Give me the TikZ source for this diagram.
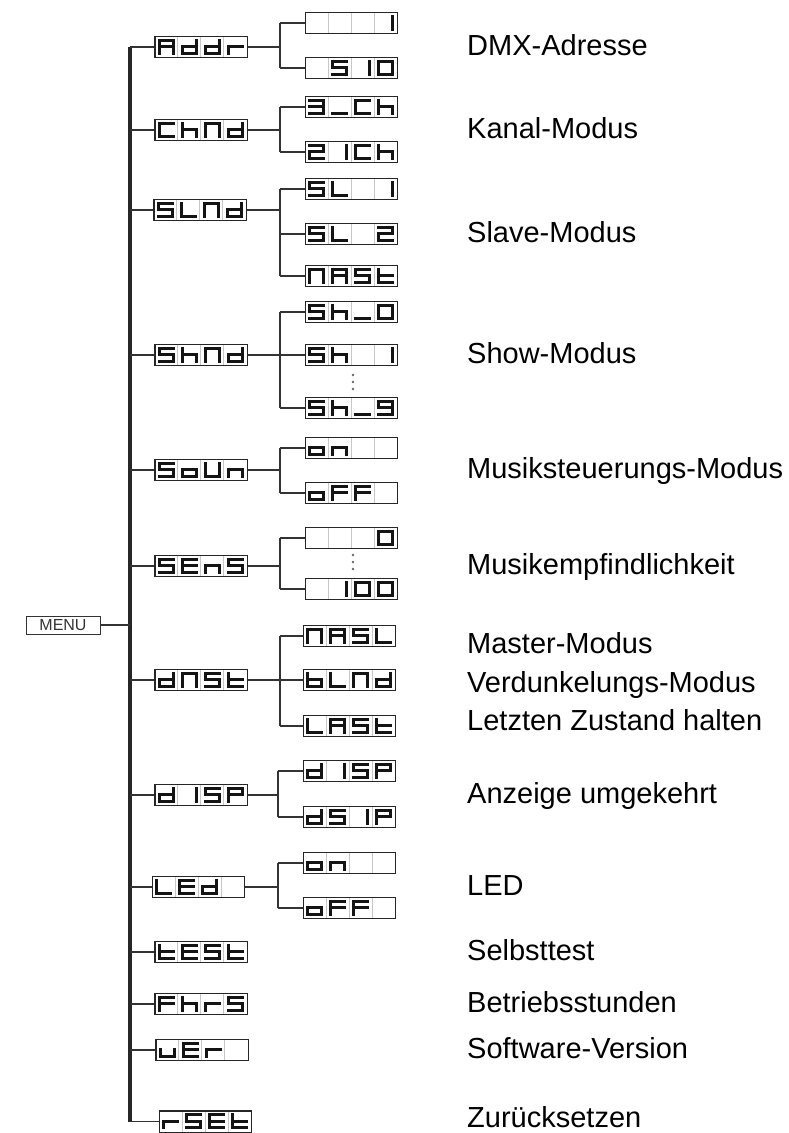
\documentclass[tikz,border=0pt]{standalone}
\usepackage{fontspec}
\setmainfont{Liberation Sans}
\usetikzlibrary{calc}
% segment paths inside one 23x21 cell (origin = top-left, y downward)
\expandafter\def\csname sg@a\endcsname{(4.5,4)--(18.5,4)}
\expandafter\def\csname sg@b\endcsname{(18.5,4)--(18.5,10.5)}
\expandafter\def\csname sg@c\endcsname{(18.5,10.5)--(18.5,17)}
\expandafter\def\csname sg@d\endcsname{(4.5,17)--(18.5,17)}
\expandafter\def\csname sg@e\endcsname{(4.5,10.5)--(4.5,17)}
\expandafter\def\csname sg@f\endcsname{(4.5,4)--(4.5,10.5)}
\expandafter\def\csname sg@g\endcsname{(4.5,10.5)--(18.5,10.5)}
\expandafter\def\csname sg@x\endcsname{}
\newcommand{\segpath}[1]{\csname sg@#1\endcsname}
\newcommand{\lcdglyphs}[5]{%
  \foreach \kk in {1,2,3}{\draw[cellsep] ($(#1.north west)+(23*\kk,0)$) -- ($(#1.south west)+(23*\kk,0)$);}
  \foreach \cc/\ss in {0/{#2},1/{#3},2/{#4},3/{#5}}{%
    \edef\tmplist{\ss}%
    \begin{scope}[shift={(#1.north west)}, xshift=23*\cc]
      \foreach \gg in \tmplist {\draw[seg] \segpath{\gg};}
    \end{scope}}%
  \draw[lcdframe] (#1.north west) rectangle (#1.south east);}
% glyph segment lists
\def\gA{a,b,c,e,f,g}\def\gd{b,c,d,e,g}\def\gr{e,g}\def\gC{a,d,e,f}
\def\gh{c,e,f,g}\def\gN{a,b,c,e,f}\def\gS{a,f,g,c,d}\def\gL{d,e,f}
\def\go{c,d,e,g}\def\gU{b,c,d,e,f}\def\gn{c,e,g}\def\gE{a,d,e,f,g}
\def\gt{d,e,f,g}\def\gone{b,c}\def\gzero{a,b,c,d,e,f}\def\gtwo{a,b,g,e,d}
\def\gthree{a,b,g,c,d}\def\gnine{a,b,c,d,f,g}\def\gF{a,e,f,g}
\def\gP{a,b,e,f,g}\def\gb{c,d,e,f,g}\def\gu{c,d,e}\def\gus{d}\def\gx{x}
\begin{document}
\begin{tikzpicture}[x=1pt,y=-1pt,
  lcd/.style={minimum width=92pt, minimum height=21pt, inner sep=0pt, fill=white},
  lcdframe/.style={draw=black!85, line width=1.4pt},
  cellsep/.style={draw=black!22, line width=0.8pt},
  seg/.style={line width=3.1pt, black!92, line cap=rect},
  trunk/.style={line width=3.2pt, black!85},
  branch/.style={line width=1.4pt, black!80},
  label/.style={anchor=base west, font=\fontsize{29}{30}\selectfont, inner sep=0pt},
  menubox/.style={draw=black!80, line width=1pt, minimum width=74pt, minimum height=18pt, inner sep=0pt, font=\fontsize{16}{17}\selectfont, text=black!80},
  dot/.style={fill=black!60, circle, inner sep=0pt, minimum size=2.8pt}]
\useasboundingbox (0,0) rectangle (788,1133);
% trunk
\coordinate (t0) at (130,47);
\coordinate (t1) at (130,1122);
\coordinate (ja) at (280,0);
\coordinate (jb) at (278,0);
\draw[trunk] (t0) -- (t1);
% menu
\node[menubox] (menu) at (63,625) {MENU};
\draw[branch] (menu.east) -- (menu.east -| t0);
% level 1 boxes
\node[lcd] (addr) at (201,47) {};
\node[lcd] (chnd) at (201,130) {};
\node[lcd] (slnd) at (200,210) {};
\node[lcd] (shnd) at (201,355) {};
\node[lcd] (soun) at (201,470) {};
\node[lcd] (sens) at (201,566) {};
\node[lcd] (dnst) at (201,680) {};
\node[lcd] (disp) at (201,795) {};
\node[lcd] (led)  at (198.5,887) {};
\node[lcd] (test) at (201,952) {};
\node[lcd] (fhrs) at (201,1004) {};
\node[lcd] (ver)  at (202,1050) {};
\node[lcd] (rset) at (205.5,1121.5) {};
\foreach \n in {addr,chnd,slnd,shnd,soun,sens,dnst,disp,led,test,fhrs,ver,rset}
  \draw[branch] (\n.west -| t0) -- (\n.west);
% level 2 boxes
\node[lcd] (a1) at (351.5,23) {};
\node[lcd] (a2) at (351.5,68) {};
\node[lcd] (c1) at (351.5,107) {};
\node[lcd] (c2) at (351.5,152) {};
\node[lcd] (s1) at (351.5,189) {};
\node[lcd] (s2) at (351.5,234) {};
\node[lcd] (s3) at (351.5,276) {};
\node[lcd] (h1) at (351.5,312) {};
\node[lcd] (h2) at (351.5,355) {};
\node[lcd] (h3) at (351.5,408) {};
\node[lcd] (o1) at (351.5,448) {};
\node[lcd] (o2) at (351.5,493) {};
\node[lcd] (e1) at (351.5,538) {};
\node[lcd] (e2) at (351.5,589) {};
\node[lcd] (d1) at (349.5,636) {};
\node[lcd] (d2) at (349.5,680) {};
\node[lcd] (d3) at (349.5,726) {};
\node[lcd] (p1) at (349.5,771) {};
\node[lcd] (p2) at (349.5,817) {};
\node[lcd] (l1) at (349.5,863) {};
\node[lcd] (l2) at (349.5,908) {};
% level 2 connectors
\foreach \p/\f/\l/\j in {addr/a1/a2/ja, chnd/c1/c2/ja, slnd/s1/s3/ja, shnd/h1/h3/ja,
  soun/o1/o2/ja, sens/e1/e2/ja, dnst/d1/d3/ja, disp/p1/p2/jb, led/l1/l2/jb}{
  \draw[branch] (\p.east) -- (\p.east -| \j);
  \draw[branch] (\f.west -| \j) -- (\l.west -| \j);}
\foreach \c/\j in {a1/ja,a2/ja,c1/ja,c2/ja,s1/ja,s2/ja,s3/ja,h1/ja,h2/ja,h3/ja,o1/ja,o2/ja,
  e1/ja,e2/ja,d1/ja,d2/ja,d3/ja,p1/jb,p2/jb,l1/jb,l2/jb}
  \draw[branch] (\c.west -| \j) -- (\c.west);
% vertical ellipses
\node[dot] (hd1) at (353,375) {};
\node[dot] (hd2) at (353,382) {};
\node[dot] (hd3) at (353,389) {};
\node[dot] (ed1) at (353,555) {};
\node[dot] (ed2) at (353,562) {};
\node[dot] (ed3) at (353,569) {};
% glyphs level 1
\lcdglyphs{addr}{\gA}{\gd}{\gd}{\gr}
\lcdglyphs{chnd}{\gC}{\gh}{\gN}{\gd}
\lcdglyphs{slnd}{\gS}{\gL}{\gN}{\gd}
\lcdglyphs{shnd}{\gS}{\gh}{\gN}{\gd}
\lcdglyphs{soun}{\gS}{\go}{\gU}{\gn}
\lcdglyphs{sens}{\gS}{\gE}{\gn}{\gS}
\lcdglyphs{dnst}{\gd}{\gN}{\gS}{\gt}
\lcdglyphs{disp}{\gd}{\gone}{\gS}{\gP}
\lcdglyphs{led}{\gL}{\gE}{\gd}{\gx}
\lcdglyphs{test}{\gt}{\gE}{\gS}{\gt}
\lcdglyphs{fhrs}{\gF}{\gh}{\gr}{\gS}
\lcdglyphs{ver}{\gu}{\gE}{\gr}{\gx}
\lcdglyphs{rset}{\gr}{\gS}{\gE}{\gt}
% glyphs level 2
\lcdglyphs{a1}{\gx}{\gx}{\gx}{\gone}
\lcdglyphs{a2}{\gx}{\gS}{\gone}{\gzero}
\lcdglyphs{c1}{\gthree}{\gus}{\gC}{\gh}
\lcdglyphs{c2}{\gtwo}{\gone}{\gC}{\gh}
\lcdglyphs{s1}{\gS}{\gL}{\gx}{\gone}
\lcdglyphs{s2}{\gS}{\gL}{\gx}{\gtwo}
\lcdglyphs{s3}{\gN}{\gA}{\gS}{\gt}
\lcdglyphs{h1}{\gS}{\gh}{\gus}{\gzero}
\lcdglyphs{h2}{\gS}{\gh}{\gx}{\gone}
\lcdglyphs{h3}{\gS}{\gh}{\gus}{\gnine}
\lcdglyphs{o1}{\go}{\gn}{\gx}{\gx}
\lcdglyphs{o2}{\go}{\gF}{\gF}{\gx}
\lcdglyphs{e1}{\gx}{\gx}{\gx}{\gzero}
\lcdglyphs{e2}{\gx}{\gone}{\gzero}{\gzero}
\lcdglyphs{d1}{\gN}{\gA}{\gS}{\gL}
\lcdglyphs{d2}{\gb}{\gL}{\gN}{\gd}
\lcdglyphs{d3}{\gL}{\gA}{\gS}{\gt}
\lcdglyphs{p1}{\gd}{\gone}{\gS}{\gP}
\lcdglyphs{p2}{\gd}{\gS}{\gone}{\gP}
\lcdglyphs{l1}{\go}{\gn}{\gx}{\gx}
\lcdglyphs{l2}{\go}{\gF}{\gF}{\gx}
% labels
\node[label] (t1l) at (467,55) {DMX-Adresse};
\node[label] (t2l) at (467,138) {Kanal-Modus};
\node[label] (t3l) at (467,242) {Slave-Modus};
\node[label] (t4l) at (467,363) {Show-Modus};
\node[label] (t5l) at (467,478) {Musiksteuerungs-Modus};
\node[label] (t6l) at (467,574) {Musikempfindlichkeit};
\node[label] (t7l) at (467,653) {Master-Modus};
\node[label] (t8l) at (467,692) {Verdunkelungs-Modus};
\node[label] (t9l) at (467,730) {Letzten Zustand halten};
\node[label] (t10l) at (467,803) {Anzeige umgekehrt};
\node[label] (t11l) at (467,895) {LED};
\node[label] (t12l) at (467,960) {Selbsttest};
\node[label] (t13l) at (467,1012) {Betriebsstunden};
\node[label] (t14l) at (467,1058) {Software-Version};
\node[label] (t15l) at (467,1127) {Zurücksetzen};
\end{tikzpicture}
\end{document}
